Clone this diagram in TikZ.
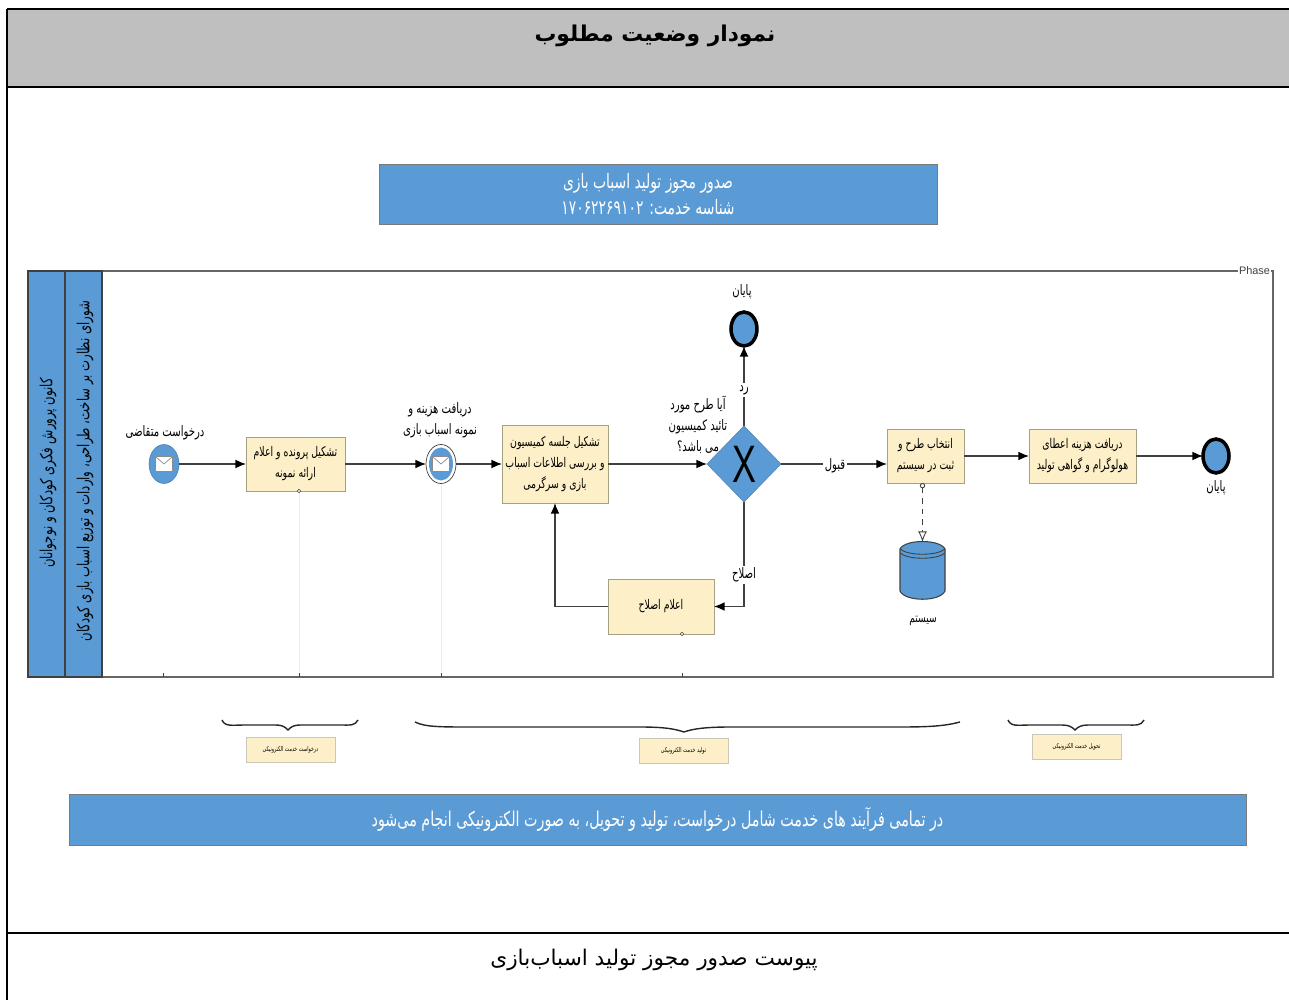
\documentclass[tikz,border=0pt]{standalone}
\usepackage{fontspec}
\usepackage{amsmath}
\usepackage{tikz}
\usetikzlibrary{shapes.geometric,arrows.meta,shadows}
\TeXXeTstate=1
\newfontfamily\arabicfont[Script=Arabic,FakeStretch=0.7]{DejaVu Sans}
\newfontfamily\headfont[Script=Arabic]{DejaVu Sans}
\setsansfont{Liberation Sans}
\definecolor{headgray}{HTML}{BFBFBF}
\definecolor{laneblue}{HTML}{5B9BD5}
\definecolor{taskfill}{HTML}{FDF0C8}
\definecolor{taskline}{HTML}{A5A183}
\definecolor{flowline}{HTML}{404040}
\newcommand{\fa}[1]{\beginR #1\endR}
\def\px{0.02cm}
\tikzset{
  every node/.style={inner sep=0pt,outer sep=0pt,align=center},
  txt/.style={font=\arabicfont\fontsize{#1}{12}\selectfont},
  txt/.default=8,
  taskbox/.style={rectangle,draw=taskline,fill=taskfill,line width=.5pt,
    drop shadow={shadow xshift=.4pt,shadow yshift=-.6pt,opacity=.3},txt=7.6},
  notebox/.style={rectangle,draw=taskline!60,fill=taskfill,line width=.4pt,
    minimum width=89*\px,minimum height=25*\px,txt=3.8},
  bluebox/.style={rectangle,draw=flowline!70,fill=laneblue,line width=.5pt,text=white},
  lane/.style={rectangle,draw=flowline,fill=laneblue,line width=.7pt,
    minimum width=37*\px,minimum height=406*\px},
  startev/.style={ellipse,fill=laneblue,draw=laneblue!80!black,line width=.3pt,
    minimum width=30*\px,minimum height=39*\px},
  endev/.style={ellipse,fill=laneblue,draw=black,line width=2pt,
    minimum width=26*\px,minimum height=34*\px},
  mail/.style={rectangle,draw=flowline!60,fill=white,line width=.4pt,
    minimum width=17*\px,minimum height=15*\px},
  flow/.style={draw=flowline,line width=.8pt,-{Latex[length=6pt,width=5pt,black]}},
  onwire/.style={txt=8.2,fill=white,inner sep=1pt},
  pin/.style={circle,draw=flowline,fill=white,line width=.3pt,minimum size=3.5*\px},
  ghost/.style={draw=black!8,line width=.4pt},
  curly/.style={draw=black!85,line width=.8pt}
}
\begin{document}
\begin{tikzpicture}[x=0.02cm,y=-0.02cm]
  \useasboundingbox (0,0) rectangle (1289,1000);

  % page frame
  \node[rectangle,fill=headgray,minimum width=1282*\px,minimum height=78*\px] (head) at (648,48) {};
  \node[font=\headfont\bfseries\fontsize{12.4}{15}\selectfont] (title) at (655,36) {\fa{نمودار وضعیت مطلوب}};
  \coordinate (fnw) at (7,9);
  \coordinate (fne) at (1289,9);
  \coordinate (fsw) at (7,1000);
  \coordinate (hw) at (7,87);
  \coordinate (he) at (1289,87);
  \coordinate (bw) at (7,933);
  \coordinate (be) at (1289,933);
  \foreach \from/\to in {fnw/fne,fnw/fsw,hw/he}
    \draw[black,line width=.9pt] (\from) -- (\to);
  \draw[black,line width=.6pt] (bw) -- (be);
  \node[font=\headfont\fontsize{12.3}{15}\selectfont] (foot) at (654,960) {\fa{پیوست صدور مجوز تولید اسباب‌بازی}};

  % top banner
  \node[bluebox,minimum width=558*\px,minimum height=60*\px] (banner) at (658,194) {};
  \node[txt=11.3,text=white] (bannertxt) at (648,194)
    {\fa{صدور مجوز تولید اسباب بازی}\\[3pt]\fa{شناسه خدمت: \beginL ۱۷۰۶۲۲۶۹۱۰۲\endL{}}};

  % pool
  \node[rectangle,draw=flowline!80,line width=.7pt,minimum width=1245*\px,minimum height=406*\px] (pool) at (650.5,474) {};
  \node[font=\sffamily\fontsize{6.2}{8}\selectfont,text=flowline,fill=white,inner sep=.5pt] (phase) at (1254.5,271) {Phase};
  \node[lane] (lane1) at (46.5,474) {};
  \node[lane] (lane2) at (83.5,474) {};
  \node[txt=9.5,rotate=90] (lane1txt) at (48,473) {\fa{کانون پرورش فکری کودکان و نوجوانان}};
  \node[txt=9.5,rotate=90] (lane2txt) at (85,471) {\fa{شورای نظارت بر ساخت، طراحی، واردات و توزیع اسباب بازی کودکان}};

  % ticks and faint guides
  \foreach \tx in {163,299,441,682}
    \draw[flowline,line width=.4pt] (\tx,673) -- (\tx,677);
  \coordinate (g1) at (299,672);
  \coordinate (g2) at (441,672);

  % events and tasks
  \node[startev] (reqev) at (164,464) {};
  \node[mail] (reqmail) at (164,464) {};
  \node[txt=8.2] (reqtxt) at (165,433) {\fa{درخواست متقاضی}};

  \node[taskbox,minimum width=99*\px,minimum height=54*\px] (file) at (295.5,464)
    {\fa{تشکیل پرونده و اعلام}\\\fa{ارائه نمونه}};
  \node[pin] (filepin) at (299,491) {};

  \node[ellipse,draw=flowline,fill=white,line width=.4pt,minimum width=30*\px,minimum height=39*\px] (feeev) at (441,464) {};
  \node[ellipse,fill=laneblue,minimum width=24*\px,minimum height=33*\px] (feein) at (441,464) {};
  \node[mail] (feemail) at (441,464) {};
  \node[txt=8.2] (feetxt) at (440,420) {\fa{دریافت هزینه و}\\\fa{نمونه اسباب بازی}};

  \node[taskbox,minimum width=106*\px,minimum height=78*\px] (meet) at (555,464)
    {\fa{تشکیل جلسه کمیسیون}\\\fa{و بررسی اطلاعات اسباب}\\\fa{بازی و سرگرمی}};

  \node[diamond,fill=laneblue,draw=laneblue!85!black,line width=.3pt,minimum width=74*\px,minimum height=76*\px,aspect=1] (gate) at (744,464)
    {\sffamily\fontsize{30}{30}\selectfont\scalebox{.68}[1]{X}};
  \node[txt=8.2] (gatetxt) at (698,425) {\fa{آیا طرح مورد}\\\fa{تائید کمیسیون}\\\fa{می باشد؟}};

  \node[endev] (end1) at (744,329) {};
  \node[txt=8.2] (end1txt) at (742,292) {\fa{پایان}};

  \node[taskbox,minimum width=106*\px,minimum height=55*\px] (notice) at (661,606.5) {\fa{اعلام اصلاح}};
  \node[pin] (noticepin) at (682,634) {};

  \node[taskbox,minimum width=77*\px,minimum height=54*\px] (pick) at (925.5,456)
    {\fa{انتخاب طرح و}\\\fa{ثبت در سیستم}};
  \node[taskbox,minimum width=107*\px,minimum height=54*\px] (fee) at (1082.5,456)
    {\fa{دریافت هزینه اعطای}\\\fa{هولوگرام و گواهی تولید}};
  \node[endev] (end2) at (1216,456) {};
  \node[txt=8.2] (end2txt) at (1216,488) {\fa{پایان}};

  % the store, drawn by hand on a bare node
  \node[rectangle,minimum width=45*\px,minimum height=57*\px] (store) at (922.5,570.5) {};
  \draw[flowline,fill=laneblue,line width=.6pt] (900,549) .. controls (905,539) and (940,539) .. (945,549)
    -- (945,591) .. controls (940,602) and (905,602) .. (900,591) -- cycle;
  \draw[flowline,line width=.5pt] (900,549) .. controls (908,556) and (937,556) .. (945,549);
  \draw[flowline,line width=.5pt] (900,553) .. controls (908,560) and (937,560) .. (945,553);
  \node[txt=7.4] (storetxt) at (923,621) {\fa{سیستم}};

  % envelope flaps
  \foreach \m in {reqmail,feemail}
    \draw[flowline!60,line width=.4pt] (\m.north west) -- (\m.center) -- (\m.north east);

  % sequence flows
  \foreach \from/\to in {reqev/file,file/feeev,feeev/meet,meet/gate,gate/end1,pick/fee,fee/end2}
    \draw[flow] (\from) -- (\to);
  \draw[flow] (gate.east) -- (gate.east -| pick.west);
  \draw[flow] (gate.south) |- (notice.east);
  \draw[flow] (notice.west) -| (meet.south);
  \draw[draw=flowline,line width=.5pt,dashed,{Circle[open,length=3pt,width=3pt,fill=white]}-{Latex[open,length=6pt,width=5pt,fill=white]}] (pick.south -| store.north) -- (store.north);
  \draw[ghost] (filepin) -- (g1);
  \draw[ghost] (feeev) -- (g2);

  % labels on the wires
  \node[onwire] (rejtxt) at (744,390) {\fa{رد}};
  \node[onwire] (fixtxt) at (744,575) {\fa{اصلاح}};
  \node[onwire] (oktxt) at (835,466) {\fa{قبول}};

  % braces over the note boxes
  \draw[curly] (222,720) .. controls (225,727) and (232,725) .. (245,725) -- (275,725) .. controls (283,725) and (285,727) .. (288,730)
    .. controls (291,727) and (293,725) .. (301,725) -- (340,725) .. controls (350,725) and (355,726) .. (358,720);
  \draw[curly] (415,722) .. controls (425,727) and (440,727) .. (470,727) -- (640,727) .. controls (665,727) and (675,729) .. (684,732)
    .. controls (692,729) and (705,727) .. (730,727) -- (900,727) .. controls (930,727) and (945,726) .. (960,722);
  \draw[curly] (1008,720) .. controls (1011,727) and (1018,725) .. (1030,725) -- (1062,725) .. controls (1069,725) and (1072,727) .. (1075,730)
    .. controls (1078,727) and (1081,725) .. (1088,725) -- (1126,725) .. controls (1136,725) and (1141,726) .. (1144,720);

  \node[notebox] (note1) at (290.5,749.5) {\fa{درخواست خدمت الکترونیکی}};
  \node[notebox] (note2) at (683.5,750.5) {\fa{تولید خدمت الکترونیکی}};
  \node[notebox] (note3) at (1076.5,747) {\fa{تحویل خدمت الکترونیکی}};

  % bottom banner
  \node[bluebox,minimum width=1177*\px,minimum height=51*\px,txt=11.6] (strip) at (657.5,819.5)
    {\fa{در تمامی فرآیند های خدمت شامل درخواست، تولید و تحویل، به صورت الکترونیکی انجام می‌شود}};
\end{tikzpicture}
\end{document}
